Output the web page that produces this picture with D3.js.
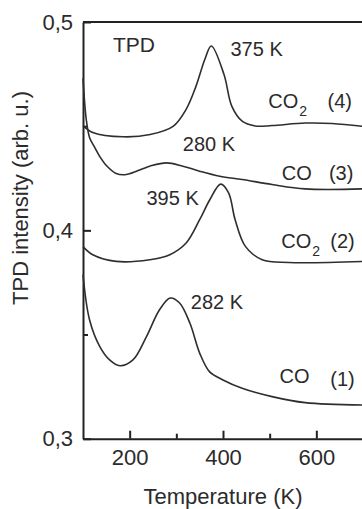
<!DOCTYPE html>
<html>
<head>
<meta charset="utf-8">
<script src="https://cdn.jsdelivr.net/npm/d3@7"></script>
<style>
  body { margin: 0; background: #fff; }
  svg { display: block; font-family: "Liberation Sans", Arial, sans-serif; }
</style>
</head>
<body>
<div id="chart"></div>
<script>
// TPD spectra (temperature in K, intensity in arb. u.)
const temp1 = [100, 114, 136, 157, 179, 207, 236, 264, 287, 307, 329, 350, 371, 400, 441, 505, 576, 700]
const co1   = [0.3787, 0.3571, 0.3442, 0.3378, 0.3350, 0.3378, 0.3490, 0.3619, 0.3675, 0.3651, 0.3555, 0.3411, 0.3322, 0.3282, 0.3242, 0.3202, 0.3173, 0.3162]

const temp2 = [100, 121, 171, 243, 286, 321, 350, 372, 395, 412, 426, 448, 484, 541, 700]
const co2_2 = [0.3922, 0.3883, 0.3851, 0.3859, 0.3883, 0.3939, 0.4051, 0.4148, 0.4222, 0.4180, 0.4051, 0.3923, 0.3859, 0.3846, 0.3851]

const temp3 = [100, 107, 114, 125, 136, 150, 171, 193, 243, 279, 314, 350, 393, 441, 505, 576, 700]
const co3   = [0.4730, 0.4532, 0.4446, 0.4398, 0.4354, 0.4311, 0.4273, 0.4268, 0.4308, 0.4324, 0.4308, 0.4284, 0.4260, 0.4244, 0.4220, 0.4199, 0.4199]

const temp4 = [100, 121, 186, 244, 293, 321, 342, 361, 375, 402, 419, 441, 469, 505, 576, 634, 700]
const co2_4 = [0.4503, 0.4470, 0.4449, 0.4460, 0.4499, 0.4581, 0.4691, 0.4820, 0.4885, 0.4749, 0.4595, 0.4524, 0.4501, 0.4503, 0.4515, 0.4513, 0.4499]

const peakLabels = ["375 K", "280 K", "395 K", "282 K"]
const peakT = [416, 314, 236, 331]
const peakV = [0.4837, 0.4380, 0.4124, 0.3622]

const gasNames = ["CO", "CO", "CO", "CO"]
const gasSub = ["2", "", "2", ""]
const gasNum = ["(4)", "(3)", "(2)", "(1)"]
const gasT = [497, 526, 525, 521]
const gasV = [0.4588, 0.4240, 0.3915, 0.3266]
const numT = [624, 627, 630, 630]
const numV = [0.4588, 0.4240, 0.3915, 0.3251]

const xMajor = [200, 400, 600]
const xMinor = [300, 500]
const yMajor = [0.3, 0.4, 0.5]
const yMinor = [0.35, 0.45]

var width = 362,
    height = 509

var svg = d3.select("#chart").append("svg")
    .attr("width", width)
    .attr("height", height)

const x = d3.scaleLinear().domain([100, 700]).range([83, 363])
const y = d3.scaleLinear().domain([0.3, 0.5]).range([438.7, 22])

const ink = "#222"
const txt = "#2b2b2b"

const comma = d3.formatLocale({decimal: ",", thousands: ".", grouping: [3], currency: ["", ""]}).format(".1f")

// top frame line
svg.append("line")
    .attr("x1", x(100)).attr("x2", x(700))
    .attr("y1", y(0.5)).attr("y2", y(0.5))
    .attr("stroke", ink).attr("stroke-width", 1.8)

// x axis
const gx = svg.append("g")
    .attr("transform", "translate(0," + y(0.3) + ")")
    .call(d3.axisBottom(x).tickValues(xMajor).tickSizeInner(-8).tickSizeOuter(0).tickPadding(11))
gx.append("g")
    .call(d3.axisBottom(x).tickValues(xMinor).tickSizeInner(-5).tickSizeOuter(0).tickFormat(""))
    .select(".domain").remove()

// y axis
const gy = svg.append("g")
    .attr("transform", "translate(" + x(100) + ",0)")
    .call(d3.axisLeft(y).tickValues(yMajor).tickSizeInner(-8).tickSizeOuter(0).tickPadding(10).tickFormat(comma))
gy.append("g")
    .call(d3.axisLeft(y).tickValues(yMinor).tickSizeInner(-5).tickSizeOuter(0).tickFormat(""))
    .select(".domain").remove()

svg.selectAll(".domain").attr("stroke", ink).attr("stroke-width", 2)
svg.selectAll(".tick line").attr("stroke", ink).attr("stroke-width", 2)
svg.selectAll(".tick text")
    .attr("fill", txt)
    .style("font-size", "22px")
    .style("font-family", "\"Liberation Sans\", Arial, sans-serif")

// axis titles
svg.append("text")
    .attr("x", x(400)).attr("y", 504)
    .attr("text-anchor", "middle")
    .attr("fill", txt)
    .style("font-size", "22px")
    .text("Temperature (K)")

svg.append("text")
    .attr("transform", "translate(27.5," + 198 + ") rotate(-90)")
    .attr("text-anchor", "middle")
    .attr("fill", txt)
    .style("font-size", "22px")
    .text("TPD intensity (arb. u.)")

// curves
const series = [
    {t: temp1, v: co1},
    {t: temp2, v: co2_2},
    {t: temp3, v: co3},
    {t: temp4, v: co2_4}
]

const line = d3.line()
    .x(d => x(d[0]))
    .y(d => y(d[1]))
    .curve(d3.curveCatmullRom.alpha(0.5))

svg.append("g")
    .selectAll("path")
    .data(series)
    .enter()
    .append("path")
    .attr("d", s => line(s.t.map((t, i) => [t, s.v[i]])))
    .attr("fill", "none")
    .attr("stroke", "#2e2e2e")
    .attr("stroke-width", 1.6)

// labels
svg.append("text")
    .attr("x", 113).attr("y", 52)
    .attr("fill", txt)
    .style("font-size", "21px")
    .text("TPD")

svg.append("g")
    .selectAll("text")
    .data(peakLabels)
    .enter()
    .append("text")
    .attr("x", (d, i) => x(peakT[i]))
    .attr("y", (d, i) => y(peakV[i]))
    .attr("fill", txt)
    .style("font-size", "20px")
    .text(d => d)

const gas = svg.append("g")
    .selectAll("text")
    .data(gasNames)
    .enter()
    .append("text")
    .attr("x", (d, i) => x(gasT[i]))
    .attr("y", (d, i) => y(gasV[i]))
    .attr("fill", txt)
    .style("font-size", "20px")
gas.append("tspan").text(d => d)
gas.append("tspan")
    .attr("dy", 8)
    .attr("dx", 1)
    .style("font-size", "14px")
    .text((d, i) => gasSub[i])

svg.append("g")
    .selectAll("text")
    .data(gasNum)
    .enter()
    .append("text")
    .attr("x", (d, i) => x(numT[i]))
    .attr("y", (d, i) => y(numV[i]))
    .attr("fill", txt)
    .style("font-size", "20px")
    .text(d => d)
</script>
</body>
</html>
